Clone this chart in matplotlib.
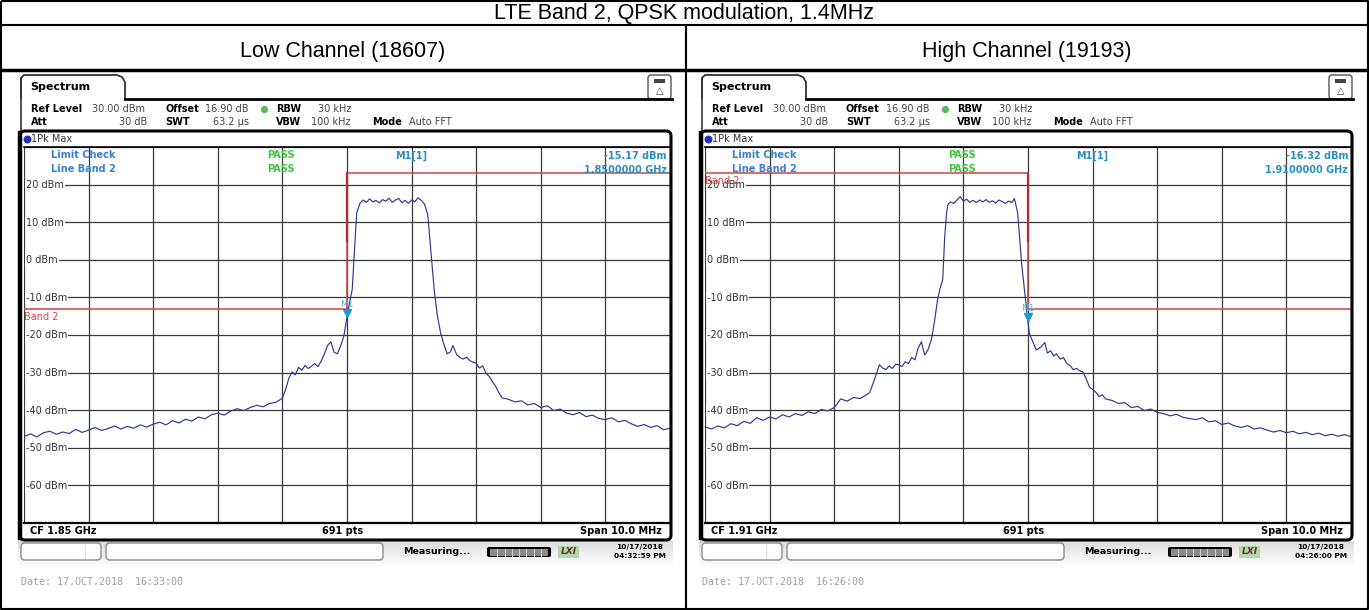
import numpy as np
import matplotlib.pyplot as plt
from matplotlib.patches import FancyBboxPatch, Rectangle, Polygon

W, H = 1369, 610

title = 'LTE Band 2, QPSK modulation, 1.4MHz'
channel_names = ['Low Channel (18607)', 'High Channel (19193)']
cf_labels = ['CF 1.85 GHz', 'CF 1.91 GHz']
marker_levels = [-15.17, -16.32]
marker_freq_labels = ['1.8500000 GHz', '1.9100000 GHz']
clock_dates = ['10/17/2018', '10/17/2018']
clock_times = ['04:32:59 PM', '04:26:00 PM']
date_lines = ['Date: 17.OCT.2018  16:33:00', 'Date: 17.OCT.2018  16:26:00']
level_ticks = [20, 10, 0, -10, -20, -30, -40, -50, -60]

# limit line "Band 2" (offset from CF in MHz, level in dBm)
limit_freq = [-5, 0, 0, 5]
limit_low_ch = [-13, -13, 23, 23]
limit_high_ch = [23, 23, -13, -13]

# max-hold traces, frequency offset from CF in MHz
low_freq = [-5.0, -4.9, -4.8, -4.7, -4.6, -4.5, -4.4, -4.3, -4.2, -4.1, -4.0, -3.9, -3.8, -3.7,
            -3.6, -3.5, -3.4, -3.3, -3.2, -3.1, -3.0, -2.9, -2.8, -2.7, -2.6, -2.5, -2.4, -2.3,
            -2.2, -2.1, -2.0, -1.9, -1.8, -1.7, -1.6, -1.5, -1.4, -1.3, -1.2, -1.1, -1.0, -0.95,
            -0.9, -0.85, -0.8, -0.75, -0.7, -0.65, -0.6, -0.55, -0.5, -0.45, -0.4, -0.35, -0.3,
            -0.25, -0.2, -0.15, -0.1, -0.05, 0.0, 0.05, 0.08, 0.12, 0.15, 0.2, 0.25, 0.3, 0.35,
            0.4, 0.45, 0.5, 0.55, 0.6, 0.65, 0.7, 0.75, 0.8, 0.85, 0.9, 0.95, 1.0, 1.05, 1.1,
            1.15, 1.2, 1.25, 1.3, 1.35, 1.4, 1.45, 1.5, 1.55, 1.6, 1.64, 1.7, 1.75, 1.8, 1.85,
            1.9, 1.95, 2.0, 2.05, 2.1, 2.15, 2.2, 2.25, 2.3, 2.35, 2.4, 2.5, 2.6, 2.7, 2.8, 2.9,
            3.0, 3.1, 3.2, 3.3, 3.4, 3.5, 3.6, 3.7, 3.8, 3.9, 4.0, 4.1, 4.2, 4.3, 4.4, 4.5, 4.6,
            4.7, 4.8, 4.9, 5.0]
low_level = [-47.0, -46.3, -47.1, -46.0, -45.6, -46.4, -45.8, -46.2, -45.1, -45.9, -45.3, -44.6,
             -45.4, -44.9, -44.2, -45.0, -44.3, -44.8, -43.9, -44.5, -43.7, -43.2, -43.9, -42.8,
             -43.4, -42.4, -42.9, -41.8, -42.3, -41.2, -40.8, -41.3, -40.2, -39.6, -40.1, -39.3,
             -38.7, -39.1, -38.2, -37.9, -36.8, -34.5, -31.5, -29.8, -30.6, -28.6, -29.4, -28.1,
             -28.9, -28.3, -27.6, -28.4, -27.0, -25.0, -22.8, -21.8, -24.6, -25.0, -23.0, -20.4,
             -15.17, -10.5, -8.0, 3.5, 12.5, 15.0, 15.9, 15.3, 16.2, 15.4, 15.8, 15.1, 16.0,
             15.6, 16.4, 15.3, 15.9, 16.3, 15.2, 15.8, 15.0, 15.9, 15.4, 16.5, 15.8, 14.8, 12.0,
             2.0, -8.0, -15.0, -19.5, -22.5, -25.0, -24.5, -22.8, -25.3, -26.0, -26.4, -25.9,
             -26.8, -27.2, -27.5, -28.8, -28.2, -30.1, -31.0, -32.4, -33.6, -35.3, -36.7, -37.1,
             -37.8, -37.5, -38.6, -38.2, -39.3, -38.8, -40.1, -39.7, -40.8, -41.2, -40.6, -41.7,
             -41.3, -42.2, -42.5, -42.0, -43.1, -42.7, -43.6, -44.3, -43.8, -44.6, -44.1, -45.2,
             -44.8]

high_freq = [-5.0, -4.9, -4.8, -4.7, -4.6, -4.5, -4.4, -4.3, -4.2, -4.1, -4.0, -3.9, -3.8, -3.7,
             -3.6, -3.5, -3.4, -3.3, -3.2, -3.1, -3.0, -2.95, -2.9, -2.8, -2.7, -2.6, -2.5, -2.45,
             -2.4, -2.35, -2.3, -2.25, -2.2, -2.15, -2.1, -2.05, -2.0, -1.95, -1.9, -1.85, -1.8,
             -1.75, -1.7, -1.65, -1.6, -1.55, -1.5, -1.48, -1.44, -1.4, -1.36, -1.32, -1.29,
             -1.26, -1.24, -1.2, -1.15, -1.1, -1.05, -1.0, -0.95, -0.9, -0.85, -0.8, -0.75, -0.7,
             -0.65, -0.6, -0.55, -0.5, -0.45, -0.4, -0.35, -0.3, -0.25, -0.21, -0.16, -0.1,
             -0.05, 0.0, 0.02, 0.07, 0.13, 0.2, 0.26, 0.3, 0.35, 0.4, 0.44, 0.5, 0.55, 0.6, 0.65,
             0.7, 0.75, 0.8, 0.85, 0.9, 0.95, 1.0, 1.05, 1.1, 1.15, 1.2, 1.3, 1.4, 1.5, 1.6, 1.7,
             1.8, 1.9, 2.0, 2.1, 2.2, 2.3, 2.4, 2.5, 2.6, 2.7, 2.8, 2.9, 3.0, 3.1, 3.2, 3.3, 3.4,
             3.5, 3.6, 3.7, 3.8, 3.9, 4.0, 4.1, 4.2, 4.3, 4.4, 4.5, 4.6, 4.7, 4.8, 4.9, 5.0]
high_level = [-44.4, -45.0, -44.2, -44.7, -43.6, -44.1, -43.0, -43.5, -42.0, -42.7, -41.8, -42.3,
              -41.2, -41.8, -40.9, -41.4, -40.4, -40.9, -39.8, -40.2, -39.3, -38.2, -37.0, -37.6,
              -36.6, -36.9, -35.9, -35.3, -33.0, -30.5, -27.9, -28.8, -29.2, -28.2, -28.9, -27.8,
              -27.9, -28.4, -27.1, -27.6, -26.0, -26.6, -23.5, -21.8, -25.3, -24.0, -21.5, -19.9,
              -15.5, -10.6, -7.5, -5.3, 6.0, 12.5, 14.7, 15.4, 15.0, 15.9, 16.8, 15.6, 16.1, 15.3,
              15.8, 15.2, 15.9, 15.4, 16.0, 15.3, 15.7, 15.1, 15.9, 15.5, 15.0, 15.6, 15.2, 16.3,
              12.5, -0.8, -8.8, -16.32, -19.5, -21.6, -24.0, -23.2, -22.0, -24.8, -24.2, -25.6,
              -25.0, -26.4, -26.0, -27.6, -28.1, -29.2, -28.9, -29.5, -29.8, -31.6, -33.8, -34.5,
              -35.2, -36.4, -35.9, -37.0, -37.4, -38.2, -38.0, -39.3, -39.0, -40.1, -39.7, -40.6,
              -40.9, -41.5, -41.1, -41.9, -42.2, -42.5, -42.0, -43.1, -42.8, -43.8, -43.4, -44.2,
              -44.6, -44.1, -45.0, -44.7, -45.3, -45.8, -45.4, -46.0, -45.6, -46.3, -45.9, -46.5,
              -46.1, -46.8, -46.4, -46.9, -46.5, -47.0]

traces = [(low_freq, low_level), (high_freq, high_level)]
limits = [limit_low_ch, limit_high_ch]

fig = plt.figure(figsize=(W / 100, H / 100), dpi=100)
fig.patch.set_facecolor('white')


def px_axes(x, y, w, h, **kw):
    return fig.add_axes([x / W, 1 - (y + h) / H, w / W, h / H], **kw)


# overlay in pixel coordinates for the table and the instrument screen decorations
ov = px_axes(0, 0, W, H, zorder=5)
ov.set_xlim(0, W)
ov.set_ylim(H, 0)
ov.axis('off')
ov.patch.set_alpha(0)

# table
tab_kw = dict(color='black', lw=1.5, solid_capstyle='butt')
ov.plot([0.75, W - 0.75, W - 0.75, 0.75, 0.75], [0.75, 0.75, H - 0.75, H - 0.75, 0.75], **tab_kw)
ov.plot([0, W], [25, 25], **tab_kw)
ov.plot([0, W], [70, 70], color='black', lw=2.5)
ov.plot([686, 686], [25, H], **tab_kw)
ov.text(W / 2, 13, title, ha='center', va='center', fontsize=15.5, family='Liberation Sans')
for i, name in enumerate(channel_names):
    ov.text(343 + i * 684, 52, name, ha='center', va='center', fontsize=15.5,
            family='Liberation Sans')

sfont = dict(family='DejaVu Sans', fontsize=7)
blue_txt = '#3d7fd0'
cyan_txt = '#2a8fc4'
green_txt = '#3fc43f'
red_lim = '#cc4444'

for p in range(2):
    dx = p * 681

    # spectrum trace and grid
    ax = px_axes(24 + dx, 147, 646, 376, zorder=2)
    ax.set_xlim(-5, 5)
    ax.set_ylim(-70, 30)
    ax.set_xticks(range(-5, 6))
    ax.set_yticks(range(-70, 31, 10))
    ax.grid(True, color='#3a3a3a', lw=0.9)
    ax.set_axisbelow(True)
    ax.tick_params(length=0, labelbottom=False, labelleft=False)
    for s in ['left', 'right']:
        ax.spines[s].set_visible(False)
    ax.spines['top'].set_linewidth(1.2)
    ax.spines['bottom'].set_linewidth(1.6)

    f, lv = traces[p]
    ax.plot(limit_freq, limits[p], color=red_lim, lw=1.1, zorder=3)
    ax.plot([0, 0], [23, 5], color='#b52a2a', lw=1.6, zorder=3)
    ax.plot(f, lv, color='#2c3a92', lw=0.85, zorder=4)
    m = marker_levels[p]
    ax.plot([0], [m + 1.0], marker='v', ms=5.5, color='#1a9ad6', zorder=5)
    ax.text(0, m + 3.3, 'M1', ha='center', va='center', color='#5ab0d0', fontsize=6.5, zorder=5)

    # y tick labels inside the grid
    for t in level_ticks:
        ov.text(26 + dx, 147.4 + (30 - t) * 3.76, f'{t} dBm', ha='left', va='center',
                color='#333333', bbox=dict(fc='white', ec='none', pad=0.6), **sfont)

    # band limit label
    if p == 0:
        ov.text(24, 317, 'Band 2', ha='left', va='center', color='#d04848', **sfont)
    else:
        ov.text(24 + dx, 181, 'Band 2', ha='left', va='center', color='#d04848', **sfont)

    # limit check + marker readout
    ov.text(51 + dx, 155, 'Limit Check', color=blue_txt, weight='bold', va='center', **sfont)
    ov.text(51 + dx, 169, 'Line Band 2', color=blue_txt, weight='bold', va='center', **sfont)
    ov.text(267 + dx, 155, 'PASS', color=green_txt, weight='bold', va='center', **sfont)
    ov.text(267 + dx, 169, 'PASS', color=green_txt, weight='bold', va='center', **sfont)
    ov.text(395 + dx, 156, 'M1[1]', color=cyan_txt, weight='bold', va='center', **sfont)
    ov.text(667 + dx, 156, f'{m:.2f} dBm', color=cyan_txt, weight='bold', va='center',
            ha='right', **sfont)
    ov.text(667 + dx, 170, marker_freq_labels[p], color=cyan_txt, weight='bold',
            va='center', ha='right', **sfont)

    # display frame
    ov.add_patch(FancyBboxPatch((20 + dx, 131), 651, 409, boxstyle='round,pad=0,rounding_size=5',
                                fc='none', ec='black', lw=2.2, zorder=6))
    ov.plot([20 + dx, 20 + dx], [133, 538], color='black', lw=3.2)
    ov.plot([21 + dx, 21 + dx], [78, 133], color='#333333', lw=1.2)
    ov.scatter([27 + dx], [139], s=22, color='#2030c0', zorder=7)
    ov.text(31 + dx, 139, '1Pk Max', color='#333333', va='center', **sfont)

    # bottom row of the display
    ov.text(30 + dx, 530.5, cf_labels[p], weight='bold', va='center', **sfont)
    ov.text(343 + dx, 530.5, '691 pts', weight='bold', va='center', ha='center', **sfont)
    ov.text(662 + dx, 530.5, 'Span 10.0 MHz', weight='bold', va='center', ha='right', **sfont)

    # header tab
    tab = Polygon([(21 + dx, 99), (21 + dx, 78), (24 + dx, 75), (117 + dx, 75), (122 + dx, 77),
                   (125 + dx, 82), (125 + dx, 99)], closed=False, fill=False, ec='#333333',
                  lw=1.3)
    ov.add_patch(tab)
    ov.plot([125 + dx, 672 + dx], [99, 99], color='black', lw=2.0)
    ov.text(30 + dx, 87, 'Spectrum', weight='bold', va='center', family='DejaVu Sans',
            fontsize=8)

    # setting readouts
    r1, r2 = 109, 122
    ov.text(31 + dx, r1, 'Ref Level', weight='bold', va='center', **sfont)
    ov.text(92 + dx, r1, '30.00 dBm', va='center', color='#444444', **sfont)
    ov.text(165 + dx, r1, 'Offset', weight='bold', va='center', **sfont)
    ov.text(205 + dx, r1, '16.90 dB', va='center', color='#444444', **sfont)
    ov.scatter([264 + dx], [r1], s=18, color='#5cb85c', zorder=7)
    ov.text(276 + dx, r1, 'RBW', weight='bold', va='center', **sfont)
    ov.text(318 + dx, r1, '30 kHz', va='center', color='#444444', **sfont)
    ov.text(31 + dx, r2, 'Att', weight='bold', va='center', **sfont)
    ov.text(147 + dx, r2, '30 dB', va='center', ha='right', color='#444444', **sfont)
    ov.text(165 + dx, r2, 'SWT', weight='bold', va='center', **sfont)
    ov.text(213 + dx, r2, '63.2 \u00b5s', va='center', color='#444444', **sfont)
    ov.text(276 + dx, r2, 'VBW', weight='bold', va='center', **sfont)
    ov.text(311 + dx, r2, '100 kHz', va='center', color='#444444', **sfont)
    ov.text(372 + dx, r2, 'Mode', weight='bold', va='center', **sfont)
    ov.text(409 + dx, r2, 'Auto FFT', va='center', color='#444444', **sfont)

    # small icon at the top right
    ov.add_patch(FancyBboxPatch((648 + dx, 75), 23, 24, boxstyle='round,pad=0,rounding_size=3',
                                fc='white', ec='#555555', lw=1.0))
    ov.add_patch(Rectangle((654 + dx, 79), 11, 4, fc='#444444', ec='none'))
    ov.text(659.5 + dx, 91, '\u25b3', ha='center', va='center', fontsize=7, color='#444444',
            family='DejaVu Sans')

    # status bar
    grad = np.linspace(0, 1, 30).reshape(-1, 1)
    ov.imshow(grad, extent=(18 + dx, 673 + dx, 566, 541), cmap='Greys_r', vmin=-3.5, vmax=1.1,
              aspect='auto', zorder=1)
    ov.add_patch(FancyBboxPatch((21 + dx, 543), 80, 17, boxstyle='round,pad=0,rounding_size=4',
                                fc='white', ec='#8a8a8a', lw=1.0, zorder=2))
    ov.plot([85 + dx, 85 + dx], [545, 558], color='#dddddd', lw=0.8, zorder=3)
    ov.add_patch(FancyBboxPatch((106 + dx, 543), 277, 17, boxstyle='round,pad=0,rounding_size=4',
                                fc='white', ec='#8a8a8a', lw=1.0, zorder=2))
    ov.text(403 + dx, 552, 'Measuring...', weight='bold', va='center', family='DejaVu Sans',
            fontsize=6.8, zorder=3)
    ov.add_patch(FancyBboxPatch((487 + dx, 547), 64, 10, boxstyle='round,pad=0,rounding_size=2',
                                fc='black', ec='none', zorder=2))
    ov.add_patch(Rectangle((490 + dx, 548.5), 58, 7, fc='#8c8c8c', ec='none', zorder=3))
    for k in range(1, 8):
        ov.plot([490 + dx + k * 58 / 8] * 2, [548.5, 555.5], color='#d0d0d0', lw=0.7, zorder=4)
    ov.add_patch(Rectangle((558 + dx, 546), 21, 12, fc='#9fd49f', ec='none', alpha=0.8, zorder=2))
    ov.text(568.5 + dx, 552, 'LXI', ha='center', va='center', weight='bold', style='italic',
            color='#7a2a18', family='DejaVu Sans', fontsize=6.5, zorder=3)
    ov.text(640 + dx, 547, clock_dates[p], ha='center', va='center', weight='bold',
            family='DejaVu Sans', fontsize=5.3, zorder=3)
    ov.text(640 + dx, 556, clock_times[p], ha='center', va='center', weight='bold',
            family='DejaVu Sans', fontsize=5.3, zorder=3)

    # screenshot date line
    ov.text(21 + dx, 582, date_lines[p], va='center', color='#a0a0a0',
            family='DejaVu Sans Mono', fontsize=7.2)

fig.savefig('out.png', dpi=100, facecolor='white')
